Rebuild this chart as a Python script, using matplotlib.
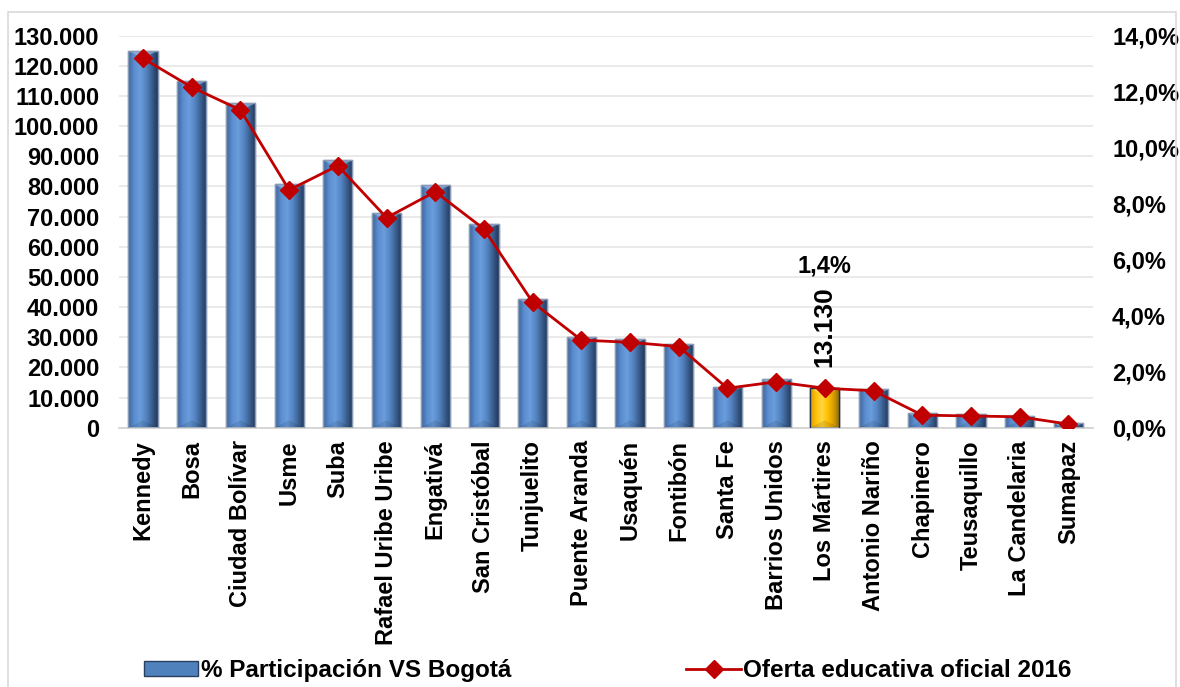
import matplotlib
matplotlib.use("Agg")
import matplotlib.pyplot as plt
import numpy as np
from matplotlib.colors import LinearSegmentedColormap
from matplotlib.patches import Rectangle, Polygon
from matplotlib.lines import Line2D
from matplotlib.ticker import FuncFormatter, MultipleLocator

plt.rcParams['font.family'] = ['Liberation Sans', 'DejaVu Sans']
plt.rcParams['font.weight'] = 'bold'

localidades = ["Kennedy", "Bosa", "Ciudad Bolívar", "Usme", "Suba", "Rafael Uribe Uribe",
               "Engativá", "San Cristóbal", "Tunjuelito", "Puente Aranda", "Usaquén",
               "Fontibón", "Santa Fe", "Barrios Unidos", "Los Mártires", "Antonio Nariño",
               "Chapinero", "Teusaquillo", "La Candelaria", "Sumapaz"]
oferta = [125000, 115000, 107600, 80700, 88700, 71200, 80400, 67600, 42700, 30000,
          29300, 27900, 13600, 16000, 13130, 12700, 4800, 4400, 4000, 1600]
participacion = [13.19, 12.16, 11.35, 8.49, 9.36, 7.50, 8.43, 7.10, 4.48, 3.13,
                 3.05, 2.90, 1.41, 1.64, 1.41, 1.32, 0.45, 0.42, 0.39, 0.13]
destacado = "Los Mártires"
etiqueta_barra = "13.130"
etiqueta_linea = "1,4%"
serie_barras = "% Participación VS Bogotá"
serie_linea = "Oferta educativa oficial 2016"

W, H = 1180, 687
fig = plt.figure(figsize=(W / 100, H / 100), dpi=100)
ax = fig.add_axes([0.1006, 0.3774, 0.8254, 0.5706])
ax2 = ax.twinx()

x = np.arange(len(localidades))
bw = 0.6
blue_cmap = LinearSegmentedColormap.from_list(
    "b", ["#3d6497", "#5b8dd0", "#6a9ddc", "#5585c4", "#3b5f8f", "#22375a"])
gold_cmap = LinearSegmentedColormap.from_list(
    "g", ["#d99a00", "#ffc20a", "#ffd640", "#ffc000", "#d79b00", "#8a6a10"])
grad = np.linspace(0, 1, 64).reshape(1, -1)

ymax = 130000
ax.set_xlim(-0.5, len(localidades) - 0.5)
ax.set_ylim(0, ymax)
depth = ymax * 0.019

bars = ax.bar(x, oferta, width=bw, color="#4f81bd", edgecolor="#8a9bb5", linewidth=1.0, zorder=2)
for name, rect in zip(localidades, bars):
    gold = name == destacado
    cm = gold_cmap if gold else blue_cmap
    x0, x1, h = rect.get_x(), rect.get_x() + rect.get_width(), rect.get_height()
    xc = (x0 + x1) / 2
    im = ax.imshow(grad, cmap=cm, aspect="auto", zorder=2.5, extent=(x0, x1, 0, h))
    im.set_clip_path(rect)
    top = Polygon([(x0, h), (x1, h), (xc, h - depth)], closed=True,
                  facecolor="#fff59a" if gold else "#a9c8f0", alpha=0.55, edgecolor="none", zorder=2.6)
    ax.add_patch(top)
    top.set_clip_path(rect)
    bot = Polygon([(x0, 0), (x1, 0), (xc, min(depth, h))], closed=True,
                  facecolor="#000000", alpha=0.10, edgecolor="none", zorder=2.6)
    ax.add_patch(bot)
    bot.set_clip_path(rect)
    if gold:
        rect.set_edgecolor("#1f3350")
    border = Rectangle((x0, 0), x1 - x0, h, fill=False, edgecolor=rect.get_edgecolor(),
                       linewidth=1.0, zorder=2.7)
    ax.add_patch(border)

ax.set_xlim(-0.5, len(localidades) - 0.5)
ax.set_ylim(0, ymax)
ax.yaxis.set_major_locator(MultipleLocator(10000))
ax.yaxis.set_major_formatter(FuncFormatter(lambda v, p: f"{int(v):,}".replace(",", ".")))
ax.grid(axis="y", color="#e6e6e6", linewidth=1.2, zorder=0)
ax.set_axisbelow(True)
for s in ["top", "right", "left"]:
    ax.spines[s].set_visible(False)
ax.spines["bottom"].set_color("#d0d0d0")
ax.spines["bottom"].set_linewidth(1.2)
ax.tick_params(axis="both", length=0, labelsize=17)
ax.set_xticks(x)
ax.set_xticklabels(localidades, rotation=90, fontsize=17, fontweight="bold")
ax.tick_params(axis="x", pad=9)
ax.tick_params(axis="y", pad=14)

ax2.plot(x, participacion, color="#c00000", linewidth=2, marker="D", markersize=9,
         markeredgecolor="#c00000", zorder=5)
ax2.set_ylim(0, 14)
ax2.yaxis.set_major_locator(MultipleLocator(2))
ax2.yaxis.set_major_formatter(FuncFormatter(lambda v, p: f"{v:.1f}%".replace(".", ",")))
for s in ax2.spines.values():
    s.set_visible(False)
ax2.tick_params(axis="y", length=0, labelsize=17, pad=14)
for lbl in ax.get_yticklabels() + ax2.get_yticklabels():
    lbl.set_fontweight("bold")

i = localidades.index(destacado)
ax.annotate(etiqueta_barra, (x[i], oferta[i]), xytext=(0, 15), textcoords="offset points",
            rotation=90, ha="center", va="bottom", fontsize=19, fontweight="bold")
ax2.annotate(etiqueta_linea, (x[i], participacion[i]), xytext=(0, 88), textcoords="offset points",
             ha="center", va="center", fontsize=17, fontweight="bold")

# legend
h1 = Rectangle((0, 0), 1, 1, facecolor="#4f81bd", edgecolor="#2a3f5f")
h2 = Line2D([], [], color="#c00000", linewidth=2, marker="D", markersize=9)
fig.legend([h1, h2], [serie_barras, serie_linea], loc="center", bbox_to_anchor=(0.515, 0.024),
           ncol=2, frameon=False, handlelength=2.25, handleheight=0.6,
           columnspacing=7.2, handletextpad=0.1, prop={"weight": "bold", "size": 17.5})

fig.add_artist(Rectangle((0.007, -0.01), 0.99, 0.9925, transform=fig.transFigure,
                         fill=False, edgecolor="#d9d9d9", linewidth=1.2))

fig.savefig("out.png", dpi=100)
